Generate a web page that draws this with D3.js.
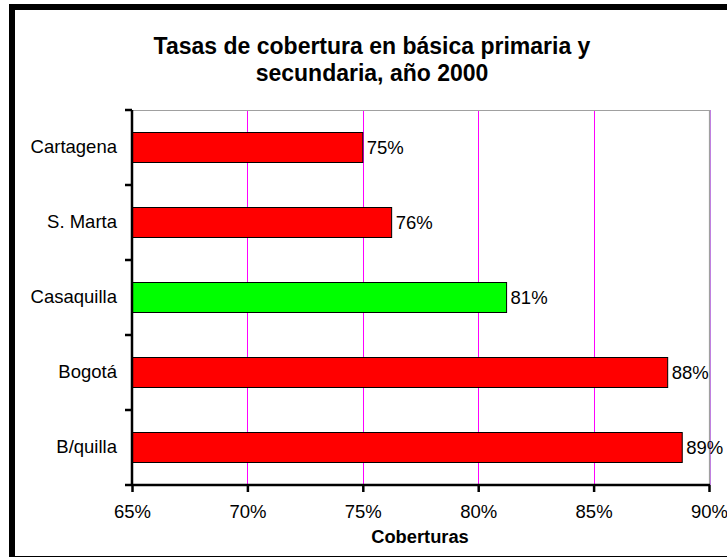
<!DOCTYPE html>
<html><head><meta charset="utf-8">
<script src="https://cdn.jsdelivr.net/npm/d3@7"></script>
<style>body{margin:0;background:#fff}svg{display:block}text{font-family:"Liberation Sans",Arial,sans-serif}</style>
</head><body>
<script>
const categories = ["Cartagena", "S. Marta", "Casaquilla", "Bogotá", "B/quilla"];
const values = [75.0, 76.25, 81.23, 88.21, 88.84];
const valueLabels = ["75%", "76%", "81%", "88%", "89%"];
const barColors = ["#FF0000", "#FF0000", "#00FF00", "#FF0000", "#FF0000"];
const xTicks = [65, 70, 75, 80, 85, 90];
const titleLines = ["Tasas de cobertura en básica primaria y", "secundaria, año 2000"];
const xTitle = "Coberturas";

const W = 727, H = 558;
const svg = d3.select("body").append("svg").attr("width", W).attr("height", H);
svg.append("rect").attr("width", W).attr("height", H).attr("fill", "#fff");

// outer frame
svg.append("rect").attr("x", 9).attr("y", 4).attr("width", 6).attr("height", 553).attr("fill", "#000");
svg.append("rect").attr("x", 9).attr("y", 4).attr("width", W - 9).attr("height", 6).attr("fill", "#000");
svg.append("line").attr("x1", 9).attr("x2", W).attr("y1", 556.5).attr("y2", 556.5).attr("stroke", "#000").attr("stroke-width", 1);

const L = 132, R = 709, T = 110, B = 485;
const x = d3.scaleLinear().domain([65, 90]).range([L, R]);
const y = d3.scaleBand().domain(categories).range([T, B]).paddingInner(0.6).paddingOuter(0.3);
const yb = d3.scaleBand().domain(categories).range([T, B]);

// gridlines
svg.append("g").selectAll("line").data(xTicks.slice(1, -1)).join("line")
  .attr("x1", d => Math.round(x(d)) + 0.5).attr("x2", d => Math.round(x(d)) + 0.5)
  .attr("y1", T).attr("y2", B).attr("stroke", "#FF00FF").attr("stroke-width", 1);
// plot border top/right
svg.append("path").attr("d", `M${L},${T + 0.5}H${R + 0.5}V${B}`).attr("fill", "none").attr("stroke", "#A0A0A0").attr("stroke-width", 1.2);
svg.append("line").attr("x1", R + 1.5).attr("x2", R + 1.5).attr("y1", T).attr("y2", B).attr("stroke", "#C080E0").attr("stroke-width", 1);

// bars
svg.append("g").selectAll("rect").data(categories).join("rect")
  .attr("x", L).attr("y", d => y(d))
  .attr("width", (d, i) => x(values[i]) - L).attr("height", y.bandwidth())
  .attr("fill", (d, i) => barColors[i]).attr("stroke", "#000").attr("stroke-width", 1);

// value labels
svg.append("g").selectAll("text").data(categories).join("text")
  .attr("x", (d, i) => x(values[i]) + 4).attr("y", d => y(d) + y.bandwidth() / 2)
  .attr("dy", "0.35em").attr("font-size", 18.5).attr("fill", "#000")
  .text((d, i) => valueLabels[i]);

// x axis
const xAxis = d3.axisBottom(x).tickValues(xTicks).tickFormat(d => d + "%").tickSize(7).tickPadding(13);
const gx = svg.append("g").attr("transform", `translate(0,${B})`).call(xAxis);
gx.select(".domain").attr("stroke", "#000").attr("stroke-width", 2.5).attr("d", `M${L},0H${R + 1}`);
gx.selectAll(".tick line").attr("stroke", "#000").attr("stroke-width", 2.5);
gx.selectAll(".tick text").attr("font-size", 18.5).attr("fill", "#000").attr("font-family", null);

// y axis
const yAxis = d3.axisLeft(yb).tickSize(0).tickPadding(15);
const gy = svg.append("g").attr("transform", `translate(${L},0)`).call(yAxis);
gy.select(".domain").attr("stroke", "#000").attr("stroke-width", 2.5).attr("d", `M0,${T}V${B + 1}`);
gy.selectAll(".tick text").attr("font-size", 18.5).attr("fill", "#000").attr("font-family", null);
// category separator ticks
const bounds = d3.range(categories.length + 1).map(i => T + i * yb.step());
svg.append("g").selectAll("line").data(bounds).join("line")
  .attr("x1", L - 7).attr("x2", L).attr("y1", d => d).attr("y2", d => d)
  .attr("stroke", "#000").attr("stroke-width", 2.5);

// title
svg.append("g").selectAll("text").data(titleLines).join("text")
  .attr("x", 372).attr("y", (d, i) => 54 + i * 27)
  .attr("text-anchor", "middle").attr("font-size", 23).attr("font-weight", "bold")
  .text(d => d);

svg.append("text").attr("x", 420).attr("y", 543).attr("text-anchor", "middle")
  .attr("font-size", 18.3).attr("font-weight", "bold").text(xTitle);
</script>
</body></html>
